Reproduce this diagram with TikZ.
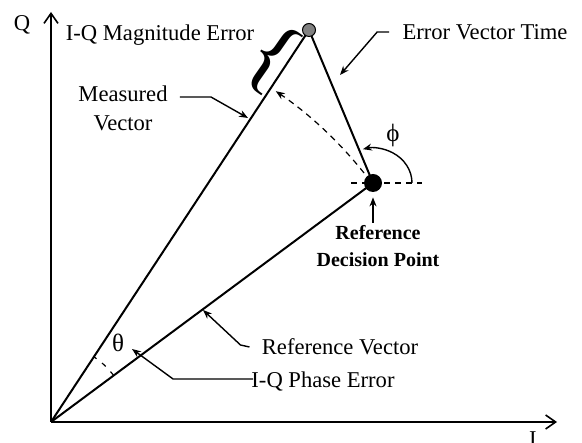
\documentclass[tikz,border=0pt]{standalone}
\usepackage{fontspec}
\setmainfont{Liberation Serif}
\usetikzlibrary{positioning,arrows.meta}

\begin{document}
\begin{tikzpicture}[
% first : the styles of the scheme
    x=0.5pt, y=0.5pt,
    txt/.style={
        inner sep=1pt,
        font=\fontsize{11.3}{14.5}\selectfont,
        align=center
    },
    boldtxt/.style={
        inner sep=1pt,
        font=\fontsize{10}{13.5}\selectfont\bfseries,
        align=center
    },
    greek/.style={
        inner sep=0pt,
        font=\fontsize{12.5}{12.5}\selectfont
    },
    axis/.style={line width=0.8pt, -{Straight Barb[length=5pt,width=7pt]}},
    vec/.style={line width=1pt},
    leader/.style={line width=0.7pt, -{Stealth[length=4.5pt,width=3.5pt]}},
    guide/.style={line width=0.6pt, dashed, dash pattern=on 3pt off 2.5pt},
    refdot/.style={circle, fill=black, minimum size=9pt, inner sep=0pt},
    tipdot/.style={circle, draw=black, fill=gray, line width=0.5pt, minimum size=6.5pt, inner sep=0pt}
]
\useasboundingbox (0,0) rectangle (582,443);

% points
\coordinate (O) at (51,21);
\coordinate (Qtop) at (51,431);
\coordinate (Iend) at (557,21);
\coordinate (R) at (373,260);
\coordinate (M) at (309,413);

% axes + labels
\draw[axis] (O) -- (Qtop);
\draw[axis] (O) -- (Iend);
\node[txt] (qlbl) at (22,418) {Q};
\node[txt, anchor=north] (ilbl) at (533,14) {I};

% vectors
\draw[vec] (O) -- (R);
\draw[vec] (O) -- (M);
\draw[vec] (R) -- (M);
\draw[guide] ([shift={(-22,0)}]R) -- ([shift={(49,0)}]R);
\node[refdot] (ref) at (R) {};
\node[tipdot] (meas) at (M) {};

% angles
\draw[guide, -{Stealth[length=4.5pt,width=3.5pt]}] (O) ++(38.5:400) arc[start angle=38.5, end angle=55.8, radius=400];
\draw[guide, dash pattern=on 2.5pt off 3.5pt] (O) ++(36.6:78) arc[start angle=36.6, end angle=56.6, radius=78];
\draw[leader] ([shift={(39,0)}]R) arc[start angle=0, end angle=105, x radius=39, y radius=35];
\node[greek] (theta) at (118,100) {θ};
\node[greek] (phi) at (393,308) {ϕ};

% magnitude error + brace
\node[txt] (maglbl) at (160,408) {I-Q Magnitude Error};
\node[inner sep=0pt, rotate=-35, font=\fontsize{44}{44}\selectfont] (brace) at (272,385) {\{};

% caracteristic + text
\node[txt] (mvlbl) at (123,335) {Measured\\Vector};
\node[txt] (evlbl) at (485,411) {Error Vector Time};
\node[txt] (rvlbl) at (340,96) {Reference Vector};
\node[txt] (phlbl) at (323,62) {I-Q Phase Error};
\node[boldtxt] (reflbl) at (378,197) {Reference\\Decision Point};

% links
\coordinate (mvtip) at (248,325);
\coordinate (evtip) at (340,368);
\coordinate (rvtip) at (203,133);
\coordinate (phtip) at (132,94);
\draw[leader] ([shift={(10,11)}]mvlbl.east) -- ++(31,0) -- (mvtip);
\draw[leader] ([shift={(-11,0)}]evlbl.west) -- ++(-12,0) -- (evtip);
\draw[leader] ([shift={(-10,0)}]rvlbl.west) -- ++(-9,2) -- (rvtip);
\draw[leader] ([shift={(4,2)}]phlbl.west) -- ++(-80,0) -- (phtip);
\draw[leader] (ref |- reflbl.north) -- ([shift={(0,-5)}]ref.south);

\end{tikzpicture}
\end{document}
